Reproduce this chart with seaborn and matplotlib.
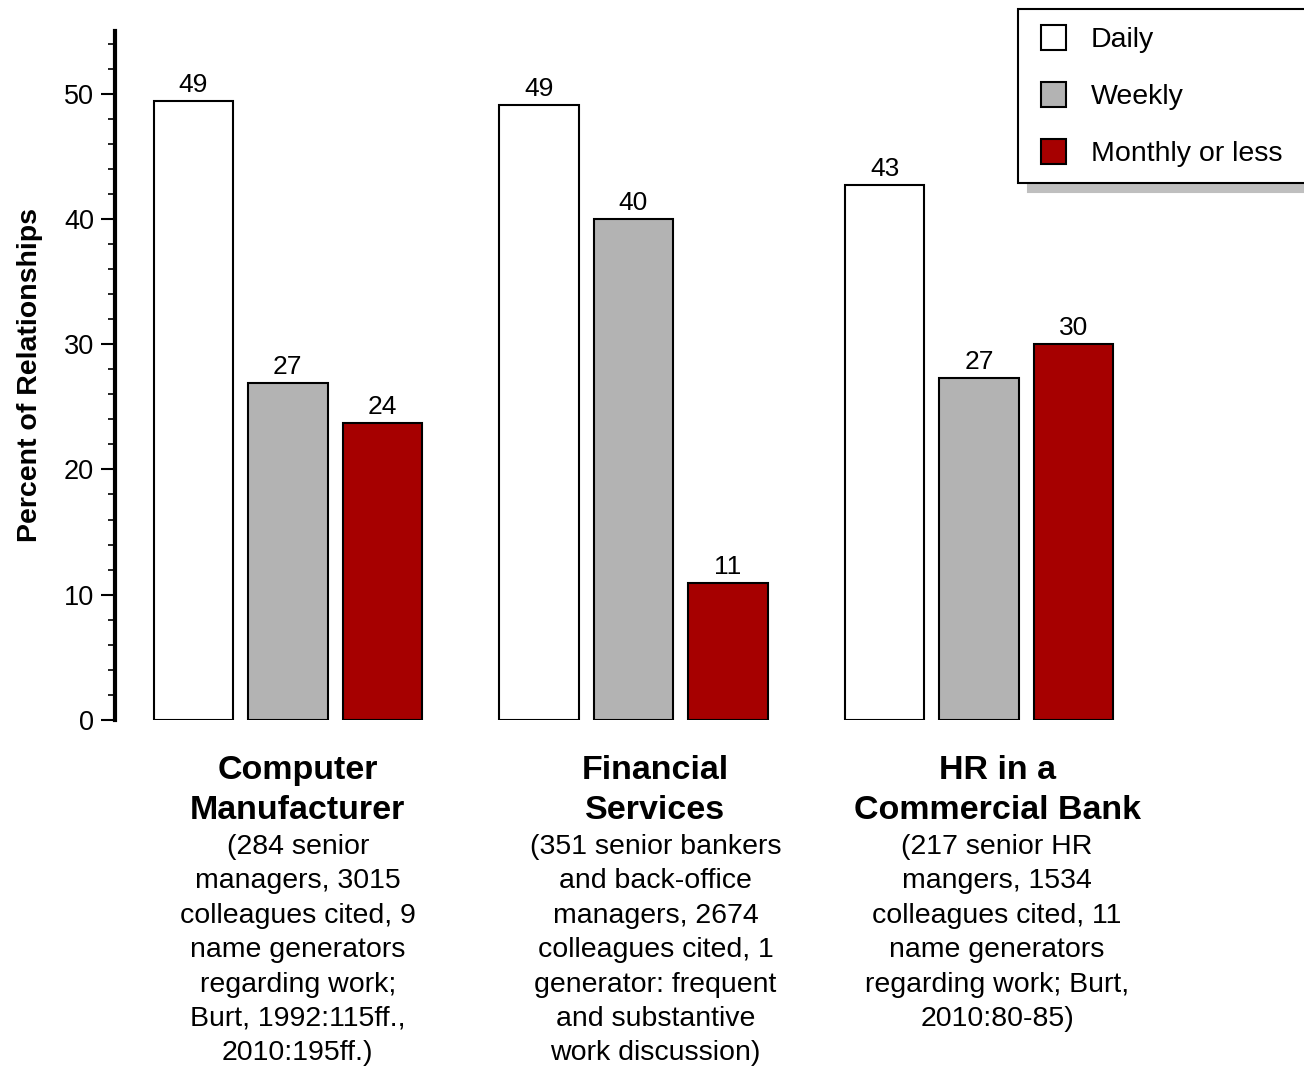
"""Frequency of contact with cited colleagues in three study populations."""

import matplotlib
matplotlib.use("Agg")
import matplotlib.pyplot as plt
from matplotlib.legend_handler import HandlerPatch
from matplotlib.patches import Patch, Rectangle
from matplotlib.ticker import MultipleLocator
import pandas as pd
import seaborn as sns

# --- data ---
groups = ["Computer Manufacturer", "Financial Services", "HR in a Commercial Bank"]
frequencies = ["Daily", "Weekly", "Monthly or less"]
daily = [49.4, 49.1, 42.7]
weekly = [26.9, 40.0, 27.3]
monthly = [23.7, 10.9, 30.0]

titles = ["Computer\nManufacturer", "Financial\nServices", "HR in a\nCommercial Bank"]
notes = [
    "(284 senior\nmanagers, 3015\ncolleagues cited, 9\nname generators\nregarding work;\nBurt, 1992:115ff.,\n2010:195ff.)",
    "(351 senior bankers\nand back-office\nmanagers, 2674\ncolleagues cited, 1\ngenerator: frequent\nand substantive\nwork discussion)",
    "(217 senior HR\nmangers, 1534\ncolleagues cited, 11\nname generators\nregarding work; Burt,\n2010:80-85)",
]
colors = ["#ffffff", "#b3b3b3", "#a60000"]
text_shift = [10, 22, 18]  # pixel nudge of the captions, as in the original


def inset_square(legend, orig_handle, xdescent, ydescent, width, height, fontsize):
    # square swatch pushed a little to the right inside its handle box
    shift = 5
    return Rectangle((-xdescent + shift, -ydescent), width - shift, height)


def main():
    df = pd.DataFrame({
        "group": groups * 3,
        "freq": [f for f in frequencies for _ in groups],
        "value": daily + weekly + monthly,
    })

    sns.set_style("ticks")
    plt.rcParams["font.family"] = ["Liberation Sans", "DejaVu Sans"]
    plt.rcParams.update({"text.color": "black", "axes.labelcolor": "black",
                         "xtick.color": "black", "ytick.color": "black"})

    fig = plt.figure(figsize=(13.04, 10.66), dpi=100)
    ax = fig.add_axes([0.0882, 0.3246, 0.7952, 0.6463])

    sns.barplot(data=df, x="group", y="value", hue="freq", hue_order=frequencies,
                palette=colors, saturation=1, width=0.82, gap=0.16,
                edgecolor="black", linewidth=1.5, errorbar=None,
                legend=False, ax=ax)

    for cont in ax.containers:
        ax.bar_label(cont, fmt="%.0f", padding=3, fontsize=19)

    ax.set_xlim(-0.5, 2.5)
    ax.set_ylim(0, 55)
    ax.yaxis.set_major_locator(MultipleLocator(10))
    ax.yaxis.set_minor_locator(MultipleLocator(2))
    ax.tick_params(axis="y", which="major", length=10, width=1.5, pad=5,
                   labelsize=19.5)
    ax.tick_params(axis="y", which="minor", length=5, width=1.2)
    ax.set_xticks([])
    ax.set_xlabel("")
    ax.set_ylabel("Percent of Relationships", fontsize=20.5, fontweight="bold",
                  labelpad=15)
    sns.despine(ax=ax, bottom=True)
    ax.spines["left"].set_linewidth(3)
    ax.spines["left"].set_color("black")

    for i, (title, note) in enumerate(zip(titles, notes)):
        ax.annotate(title, xy=(i, 0), xycoords=("data", "axes fraction"),
                    xytext=(text_shift[i], -35), textcoords="offset pixels",
                    ha="center", va="top", fontsize=24.5, fontweight="bold",
                    linespacing=1.39)
        ax.annotate(note, xy=(i, 0), xycoords=("data", "axes fraction"),
                    xytext=(text_shift[i], -114), textcoords="offset pixels",
                    ha="center", va="top", fontsize=20.5, linespacing=1.42)

    handles = [Patch(facecolor=c, edgecolor="black", linewidth=1.5) for c in colors]
    leg = fig.legend(handles, frequencies, loc="upper left",
                     bbox_to_anchor=(1018 / 1304, 0, 310 / 1304, 1 - 9 / 1066),
                     mode="expand", borderaxespad=0,
                     handler_map={Patch: HandlerPatch(patch_func=inset_square)},
                     fontsize=20.5, handlelength=1.15, handleheight=1.0,
                     handletextpad=0.85, labelspacing=1.0, borderpad=0.55,
                     fancybox=False, edgecolor="black", framealpha=1,
                     shadow={"ox": 7, "oy": -7, "color": "0.75", "alpha": 1})
    leg.get_frame().set_linewidth(1.5)

    fig.savefig("out.png", dpi=100)


if __name__ == "__main__":
    main()
